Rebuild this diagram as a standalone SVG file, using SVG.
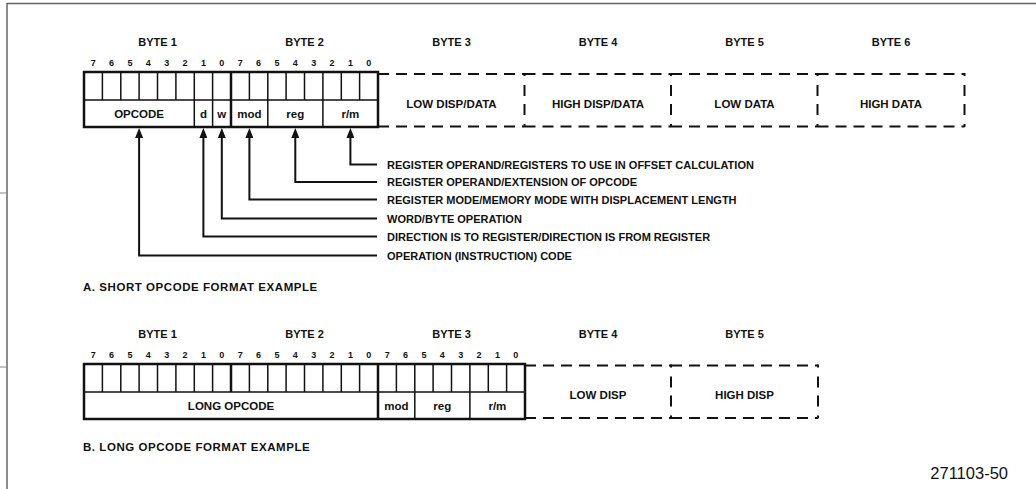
<svg xmlns="http://www.w3.org/2000/svg" width="1036" height="489" viewBox="0 0 1036 489">
<style>
text{font-family:"Liberation Sans",Arial,Helvetica,sans-serif;font-weight:bold;fill:#111}
.byte{font-size:11px;text-anchor:middle}
.bit{font-size:9px;text-anchor:middle}
.fld{font-size:11.5px;text-anchor:middle}
.desc{font-size:11px}
.sec{font-size:11.5px;letter-spacing:0.55px}
.outer{fill:#fff;stroke:#111;stroke-width:2.5}
.thin{stroke:#111;stroke-width:1.5;fill:none}
.thick{stroke:#111;stroke-width:2.5;fill:none}
.dh{stroke:#111;stroke-width:2;stroke-dasharray:11 7;fill:none}
.dv{stroke:#111;stroke-width:2;stroke-dasharray:3 9 11 8 11 9 3;fill:none}
.conn{stroke:#111;stroke-width:2;fill:none}
.frame{stroke:#666;stroke-width:1.5;fill:none}
</style>
<defs>
<marker id="arr" viewBox="0 0 10 8" refX="4" refY="4" markerWidth="10" markerHeight="8" markerUnits="userSpaceOnUse" orient="auto">
<path d="M0,0 L10,4 L0,8 z" fill="#111"/>
</marker>
</defs>
<g id="frame">
<path class="frame" d="M7,3.5 H1036 M7,3 V489"/>
<path stroke="#888" stroke-width="1" d="M0,193 H7 M0,367 H7"/>
</g>
<g id="short-format">
<g id="short-byte-labels">
<text class="byte" x="157.5" y="45.5">BYTE 1</text>
<text class="byte" x="304.5" y="45.5">BYTE 2</text>
<text class="byte" x="451.5" y="45.5">BYTE 3</text>
<text class="byte" x="598" y="45.5">BYTE 4</text>
<text class="byte" x="744.5" y="45.5">BYTE 5</text>
<text class="byte" x="891" y="45.5">BYTE 6</text>
</g>
<text class="bit" x="93.2 111.6 129.9 148.3 166.7 185.1 203.4 221.8 240.2 258.6 276.9 295.3 313.7 332.1 350.4 368.8" y="66">7654321076543210</text>
<g id="short-bytes-1-2">
<rect class="outer" x="84" y="72" width="294" height="55"/>
<path class="thin" d="M84,100 H378 M102.4,72 V100 M120.8,72 V100 M139.1,72 V100 M157.5,72 V100 M175.9,72 V100 M194.3,72 V127 M212.6,72 V127 M249.4,72 V100 M267.8,72 V127 M286.1,72 V100 M304.5,72 V100 M322.9,72 V127 M341.3,72 V100 M359.6,72 V100"/>
<path class="thick" d="M231,72 V127"/>
<text class="fld" x="139.1" y="117.5">OPCODE</text>
<text class="fld" x="203.4" y="117.5">d</text>
<text class="fld" x="221.8" y="117.5">w</text>
<text class="fld" x="249.4" y="117.5">mod</text>
<text class="fld" x="295.3" y="117.5">reg</text>
<text class="fld" x="350.4" y="117.5">r/m</text>
</g>
<g id="short-byte3">
<path class="dh" d="M378,74 H524.5 M378,126.5 H524.5"/>
<text class="fld" x="451.5" y="107.5">LOW DISP/DATA</text>
</g>
<g id="short-byte4">
<path class="dh" d="M524.5,74 H671 M524.5,126.5 H671"/>
<path class="dv" d="M524.5,73 V127"/>
<text class="fld" x="598" y="107.5">HIGH DISP/DATA</text>
</g>
<g id="short-byte5">
<path class="dh" d="M671,74 H817.5 M671,126.5 H817.5"/>
<path class="dv" d="M671,73 V127"/>
<text class="fld" x="744.5" y="107.5">LOW DATA</text>
</g>
<g id="short-byte6">
<path class="dh" d="M817.5,74 H964.5 M817.5,126.5 H964.5"/>
<path class="dv" d="M817.5,73 V127 M964.5,73 V127"/>
<text class="fld" x="891" y="107.5">HIGH DATA</text>
</g>
<g id="desc-rm"><text class="desc" x="387" y="168.5">REGISTER OPERAND/REGISTERS TO USE IN OFFSET CALCULATION</text></g>
<g id="desc-reg"><text class="desc" x="387" y="186">REGISTER OPERAND/EXTENSION OF OPCODE</text></g>
<g id="desc-mod"><text class="desc" x="387" y="203.5">REGISTER MODE/MEMORY MODE WITH DISPLACEMENT LENGTH</text></g>
<g id="desc-w"><text class="desc" x="387" y="222.5">WORD/BYTE OPERATION</text></g>
<g id="desc-d"><text class="desc" x="387" y="240.5">DIRECTION IS TO REGISTER/DIRECTION IS FROM REGISTER</text></g>
<g id="desc-opcode"><text class="desc" x="387" y="259.5">OPERATION (INSTRUCTION) CODE</text></g>
<text class="sec" x="83" y="290.5">A.  SHORT OPCODE FORMAT EXAMPLE</text>
</g>
<g id="connectors">
<path class="conn" marker-end="url(#arr)" d="M377,164.5 H350.4 V134"/>
<path class="conn" marker-end="url(#arr)" d="M377,182 H295.3 V134"/>
<path class="conn" marker-end="url(#arr)" d="M377,199.5 H249.4 V134"/>
<path class="conn" marker-end="url(#arr)" d="M377,218.5 H221.8 V134"/>
<path class="conn" marker-end="url(#arr)" d="M377,236.5 H203.4 V134"/>
<path class="conn" marker-end="url(#arr)" d="M377,255.5 H139.1 V134"/>
</g>
<g id="long-format">
<g id="long-byte-labels">
<text class="byte" x="157.5" y="337.5">BYTE 1</text>
<text class="byte" x="304.5" y="337.5">BYTE 2</text>
<text class="byte" x="451.5" y="337.5">BYTE 3</text>
<text class="byte" x="598" y="337.5">BYTE 4</text>
<text class="byte" x="744.5" y="337.5">BYTE 5</text>
</g>
<text class="bit" x="93.2 111.6 129.9 148.3 166.7 185.1 203.4 221.8 240.2 258.6 276.9 295.3 313.7 332.1 350.4 368.8 387.2 405.6 423.9 442.3 460.7 479.1 497.4 515.8" y="358">765432107654321076543210</text>
<g id="long-bytes-1-3">
<rect class="outer" x="84" y="364" width="441" height="55"/>
<path class="thin" d="M84,392 H525 M102.4,364 V392 M120.8,364 V392 M139.1,364 V392 M157.5,364 V392 M175.9,364 V392 M194.3,364 V392 M212.6,364 V392 M249.4,364 V392 M267.8,364 V392 M286.1,364 V392 M304.5,364 V392 M322.9,364 V392 M341.3,364 V392 M359.6,364 V392 M396.4,364 V392 M414.8,364 V419 M433.1,364 V392 M451.5,364 V392 M469.9,364 V419 M488.3,364 V392 M506.6,364 V392"/>
<path class="thick" d="M231,364 V392 M378,364 V419"/>
<text class="fld" x="231" y="409.5">LONG OPCODE</text>
<text class="fld" x="396.4" y="409.5">mod</text>
<text class="fld" x="442.3" y="409.5">reg</text>
<text class="fld" x="497.4" y="409.5">r/m</text>
</g>
<g id="long-byte4">
<path class="dh" d="M525,365.5 H671 M525,418 H671"/>
<text class="fld" x="598" y="399">LOW DISP</text>
</g>
<g id="long-byte5">
<path class="dh" d="M671,365.5 H818 M671,418 H818"/>
<path class="dv" d="M671,364.5 V418.5 M818,364.5 V418.5"/>
<text class="fld" x="744.5" y="399">HIGH DISP</text>
</g>
<text class="sec" x="83" y="450.5">B.  LONG OPCODE FORMAT EXAMPLE</text>
</g>
<text x="1008" y="479" font-size="16.5" style="font-weight:normal;text-anchor:end">271103-50</text>
</svg>
